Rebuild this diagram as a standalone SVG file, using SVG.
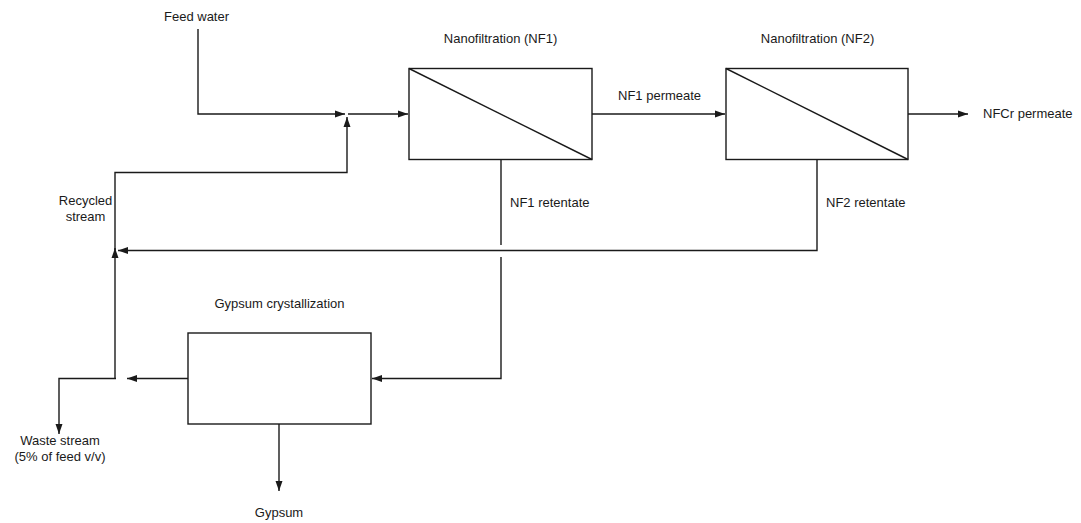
<svg xmlns="http://www.w3.org/2000/svg" width="1081" height="523" viewBox="0 0 1081 523">
<defs>
<marker id="ah" markerUnits="userSpaceOnUse" markerWidth="11" markerHeight="8" refX="10" refY="4" orient="auto">
<path d="M0,0.5 L10,4 L0,7.5 z" fill="#1a1a1a"/>
</marker>
<style>
.box{fill:#fff;stroke:#1a1a1a;stroke-width:1.4}
.mem{stroke:#1a1a1a;stroke-width:1.4;fill:none}
.c{fill:none;stroke:#1a1a1a;stroke-width:1.4}
.a{marker-end:url(#ah)}
text{font-family:"Liberation Sans",Arial,Helvetica,sans-serif;font-size:13px;fill:#1a1a1a}
.m{text-anchor:middle}
</style>
</defs>
<rect width="1081" height="523" fill="#fff"/>
<g id="connectors">
<path class="c a" d="M198,29 V114 H345"/>
<path class="c a" d="M348,114 H408"/>
<path class="c a" d="M115,378 V248"/>
<path class="c a" d="M115,250 V172.5 H347 V117"/>
<path class="c a" d="M592,114 H725"/>
<path class="c a" d="M908,114 H968"/>
<path class="c" d="M501,159 V245"/>
<path class="c a" d="M501,257 V378.5 H372"/>
<path class="c a" d="M817,159 V250.5 H118"/>
<path class="c a" d="M188,378.5 H127"/>
<path class="c a" d="M116,378.5 H59 V434"/>
<path class="c a" d="M279,424 V491"/>
</g>
<g id="nf1">
<rect class="box" x="409" y="68.5" width="183" height="91"/>
<path class="mem" d="M409,68.5 L592,159.5"/>
<text class="m" x="500.5" y="43">Nanofiltration (NF1)</text>
</g>
<g id="nf2">
<rect class="box" x="726" y="68.5" width="182" height="91"/>
<path class="mem" d="M726,68.5 L908,159.5"/>
<text class="m" x="817.5" y="43">Nanofiltration (NF2)</text>
</g>
<g id="gypsum-crystallization">
<rect class="box" x="188" y="333" width="183" height="91"/>
<text class="m" x="279.5" y="308">Gypsum crystallization</text>
</g>
<g id="labels">
<text x="164" y="21">Feed water</text>
<text x="618" y="100">NF1 permeate</text>
<text x="983" y="118">NFCr permeate</text>
<text x="510" y="207">NF1 retentate</text>
<text x="826" y="207">NF2 retentate</text>
<text class="m" x="85.5" y="205">Recycled</text>
<text class="m" x="85.5" y="221">stream</text>
<text class="m" x="60" y="445">Waste stream</text>
<text class="m" x="60" y="461">(5% of feed v/v)</text>
<text class="m" x="279" y="517">Gypsum</text>
</g>
</svg>
